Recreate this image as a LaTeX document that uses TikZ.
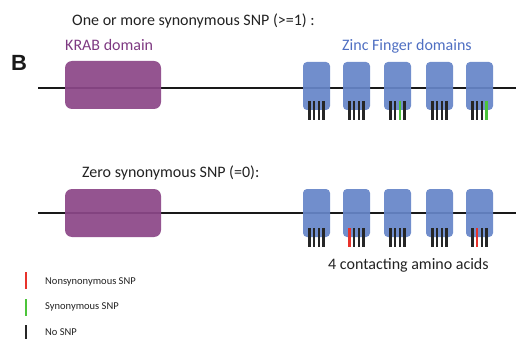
\documentclass[tikz,border=0pt]{standalone}
\usepackage{fontspec}
\setmainfont{Carlito}
\newfontfamily\bfont{Liberation Sans}
\definecolor{krab}{HTML}{8C4788}
\definecolor{krabtxt}{HTML}{7E3A82}
\definecolor{zf}{HTML}{6685C8}
\definecolor{zftxt}{HTML}{4F6FC2}
\definecolor{snpred}{HTML}{E8322B}
\definecolor{snpgreen}{HTML}{4CC43A}
\definecolor{txt}{HTML}{222222}
\tikzset{
  backbone/.style={line width=2.4pt, black!90},
  krabbox/.style={fill=krab, fill opacity=0.93, rounded corners=7pt, draw=none},
  zfbox/.style={fill=zf, fill opacity=0.93, rounded corners=4pt, draw=none},
  bar/.style={line width=2.3pt, black!85},
  gbar/.style={line width=2.3pt, snpgreen},
  rbar/.style={line width=2.3pt, snpred},
  lbl/.style={anchor=base west, inner sep=0pt, font=\fontsize{16}{18}\selectfont, text=txt},
  leg/.style={anchor=base west, inner sep=0pt, font=\fontsize{10.5}{12}\selectfont, text=txt}
}
\begin{document}
\begin{tikzpicture}[x=1pt,y=-1pt]
\useasboundingbox (0,0) rectangle (516,339);
% texts
\node[lbl] (hdr1) at (72,25.5) {One or more synonymous SNP (>=1) :};
\node[lbl, text=krabtxt] (krablbl) at (65,50.7) {KRAB domain};
\node[lbl, text=zftxt] (zflbl) at (342,50.7) {Zinc Finger domains};
\node[anchor=base west, inner sep=0pt, text=black!90, font=\bfont\bfseries\fontsize{22}{24}\selectfont] (B) at (11,70.5) {B};
\node[lbl] (hdr2) at (82,177.3) {Zero synonymous SNP (=0):};
\node[lbl] (contact) at (328,269.3) {4 contacting amino acids};
% row 1
\coordinate (l1a) at (38,88);
\coordinate (l1b) at (516,88);
\draw[backbone] (l1a) -- (l1b);
\fill[krabbox] (65,61) rectangle (161,109);
\foreach \x in {303,343,384,426,466} {
  \fill[zfbox] (\x,62) rectangle ++(27,48);
}
% row 2
\coordinate (l2a) at (38,213);
\coordinate (l2b) at (516,213);
\draw[backbone] (l2a) -- (l2b);
\fill[krabbox] (65,189) rectangle (161,237);
\foreach \x in {303,343,384,426,466} {
  \fill[zfbox] (\x,189) rectangle ++(27,48);
}
% bars row 1
\foreach \x/\a/\b/\c/\d in {303/bar/bar/bar/bar,343/bar/bar/bar/bar,384/bar/bar/gbar/bar,426/bar/bar/bar/bar,466/bar/bar/bar/gbar} {
  \draw[\a] (\x+6.5,101) -- (\x+6.5,120);
  \draw[\b] (\x+11.2,101) -- (\x+11.2,120);
  \draw[\c] (\x+15.8,101) -- (\x+15.8,120);
  \draw[\d] (\x+20.5,101) -- (\x+20.5,120);
}
% bars row 2
\foreach \x/\a/\b/\c/\d in {303/bar/bar/bar/bar,343/rbar/bar/bar/bar,384/bar/bar/bar/bar,426/bar/bar/bar/bar,466/bar/rbar/bar/bar} {
  \draw[\a] (\x+6.5,228) -- (\x+6.5,247);
  \draw[\b] (\x+11.2,228) -- (\x+11.2,247);
  \draw[\c] (\x+15.8,228) -- (\x+15.8,247);
  \draw[\d] (\x+20.5,228) -- (\x+20.5,247);
}
% legend
\draw[rbar] (26,272) -- (26,289);
\draw[gbar] (26,299) -- (26,316);
\draw[bar] (26,325) -- (26,339);
\node[leg] (lr) at (45,284) {Nonsynonymous SNP};
\node[leg] (lg) at (45,309.5) {Synonymous SNP};
\node[leg] (lk) at (45,335) {No SNP};
\end{tikzpicture}
\end{document}
